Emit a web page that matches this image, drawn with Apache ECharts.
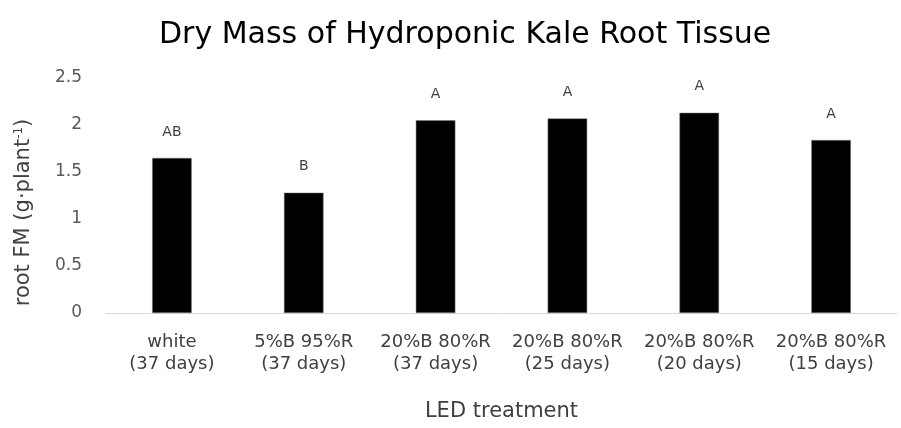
<!DOCTYPE html>
<html>
<head>
<meta charset="utf-8">
<script src="https://cdn.jsdelivr.net/npm/echarts@6/dist/echarts.min.js"></script>
<style>
    html, body { margin: 0; padding: 0; background: #fff; }
    #chart { width: 901px; height: 428px; }
</style>
</head>
<body>
<div id="chart"></div>
<script>
const treatments = ['white', '5%B 95%R', '20%B 80%R', '20%B 80%R', '20%B 80%R', '20%B 80%R'];
const durations = ['(37 days)', '(37 days)', '(37 days)', '(25 days)', '(20 days)', '(15 days)'];
const rootMass = [1.65, 1.28, 2.05, 2.07, 2.13, 1.84];
const groupLetters = ['AB', 'B', 'A', 'A', 'A', 'A'];

const categories = treatments.map((t, i) => t + '\n' + durations[i]);
const font = 'DejaVu Sans';

const myChart = echarts.init(document.getElementById('chart'));

const option = {
    backgroundColor: '#fff',
    animation: false,
    title: {
        text: 'Dry Mass of Hydroponic Kale Root Tissue',
        left: 154,
        top: 15,
        textStyle: {
            fontFamily: font,
            fontSize: 30,
            fontWeight: 'normal',
            color: '#000'
        }
    },
    grid: {
        left: 106,
        right: 4,
        top: 78,
        bottom: 115
    },
    xAxis: {
        type: 'category',
        data: categories,
        name: 'LED treatment',
        nameLocation: 'middle',
        nameGap: 88,
        nameTextStyle: { fontFamily: font, fontSize: 21, color: '#404040' },
        axisLine: { lineStyle: { color: '#d9d9d9', width: 1 } },
        axisTick: { show: false },
        axisLabel: {
            fontFamily: font,
            fontSize: 18,
            color: '#404040',
            lineHeight: 22,
            margin: 18,
            interval: 0
        }
    },
    yAxis: {
        type: 'value',
        min: 0,
        max: 2.5,
        interval: 0.5,
        name: '{n|root FM (g·plant}{s|-1}{n|)}',
        nameLocation: 'middle',
        nameRotate: 90,
        nameGap: 71,
        nameTextStyle: {
            padding: [0, 34, 0, 0],
            rich: {
                n: { fontFamily: font, fontSize: 21, color: '#404040' },
                s: { fontFamily: font, fontSize: 12, color: '#404040', verticalAlign: 'top', padding: [0, 0, 10, 0] }
            }
        },
        splitLine: { show: false },
        axisLine: { show: false },
        axisTick: { show: false },
        axisLabel: {
            fontFamily: font,
            fontSize: 17,
            color: '#595959',
            margin: 24
        }
    },
    series: [
        {
            type: 'bar',
            data: rootMass,
            barWidth: '30%',
            itemStyle: {
                color: '#000',
                borderColor: '#7f7f7f',
                borderWidth: 0.5
            },
            label: {
                show: true,
                position: 'top',
                distance: 19,
                fontFamily: font,
                fontSize: 14,
                color: '#404040',
                formatter: p => groupLetters[p.dataIndex]
            }
        }
    ]
};

myChart.setOption(option);
</script>
</body>
</html>
